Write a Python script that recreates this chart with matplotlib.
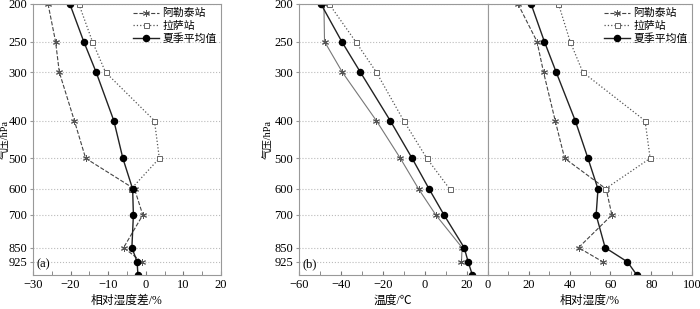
import numpy as np
import matplotlib.pyplot as plt
from matplotlib.ticker import FixedLocator, NullFormatter, MultipleLocator

plt.rcParams['font.family'] = ['Liberation Serif', 'Noto Sans CJK SC']
plt.rcParams['font.size'] = 9

# pressure levels (hPa)
p_all = [200, 250, 300, 400, 500, 600, 700, 850, 925, 1000]
p_alt = [200, 250, 300, 400, 500, 600, 700, 850, 925]
p_lhasa = [200, 250, 300, 400, 500, 600]
yticks = [200, 250, 300, 400, 500, 600, 700, 850, 925]

# (a) relative humidity difference (%)
rhd_alt = [-26, -24, -23, -19, -16, -3, -0.8, -5.9, -1]
rhd_lhasa = [-17.8, -14.2, -10.7, 2.3, 3.6, -3.9]
rhd_mean = [-20.2, -16.5, -13.2, -8.5, -6.1, -3.5, -3.3, -3.7, -2.3, -2.1]

# (b) temperature (degC)
t_alt = [-48, -47.7, -39.2, -23, -11.6, -2.9, 5.3, 17.8, 17.5]
t_lhasa = [-45.5, -32.9, -23, -10, 1, 11.9]
t_mean = [-49.4, -39.5, -30.6, -16.4, -6, 2.1, 9.2, 18.8, 20.7, 22.7]

# (b) relative humidity (%)
rh_alt = [14.8, 24.1, 27.3, 33, 37.6, 57.9, 60.7, 44.4, 56.3]
rh_lhasa = [34.6, 40.3, 46.5, 76.9, 79.4, 57.4]
rh_mean = [21.2, 27.7, 33.5, 42.8, 49, 53.9, 53, 57.4, 68.3, 72.9]

names = ['阿勒泰站', '拉萨站', '夏季平均值']
ast = (6, 2, 0)

fig = plt.figure(figsize=(7, 3.09), dpi=100)
H = 1 - 4 / 309 - 0.110
ax1 = fig.add_axes([33 / 700, 0.110, 188 / 700, H])
ax2 = fig.add_axes([298.7 / 700, 0.110, 189 / 700, H])
ax3 = fig.add_axes([487.7 / 700, 0.110, 204.6 / 700, H])


def style(ax, xlim, major, minor, ylab=None):
    ax.set_yscale('log')
    ax.set_ylim(1000, 200)
    ax.yaxis.set_major_locator(FixedLocator(yticks))
    ax.yaxis.set_minor_locator(FixedLocator([]))
    if ylab is not None:
        ax.set_yticklabels([str(v) for v in yticks])
        ax.set_ylabel('气压/hPa', fontsize=7.5)
        ax.yaxis.set_label_coords(ylab, 0.5)
        ax.tick_params(axis='y', length=2.5, pad=1.5, color='#999999')
    else:
        ax.yaxis.set_major_formatter(NullFormatter())
        ax.tick_params(axis='y', length=0)
    ax.set_xlim(*xlim)
    ax.xaxis.set_major_locator(MultipleLocator(major))
    ax.xaxis.set_minor_locator(MultipleLocator(minor))
    ax.tick_params(axis='x', which='both', direction='in', length=3, color='#777777', pad=3)
    ax.tick_params(labelsize=9)
    for s in ax.spines.values():
        s.set_color('#999999')
        s.set_linewidth(0.8)
    ax.grid(axis='y', which='major', color='#bbbbbb', linestyle=':', linewidth=0.8)
    ax.set_axisbelow(True)


def draw(ax, x1, x2, x3, alt_ls='--', alt_c='#444444'):
    ax.plot(x1, p_alt, linestyle=alt_ls, color=alt_c, lw=0.8, marker=ast,
            ms=5, mec='#555555', mew=0.7, label=names[0])
    ax.plot(x2, p_lhasa, linestyle=':', color='#555555', lw=0.9, marker='s',
            ms=3.6, mfc='white', mec='#666666', mew=0.7, label=names[1])
    ax.plot(x3, p_all, linestyle='-', color='#222222', lw=1.0, marker='o',
            ms=4.4, mfc='black', mec='black', label=names[2])


def legend(ax):
    ax.legend(loc='upper right', frameon=False, fontsize=7.8, handlelength=2.4,
              handletextpad=0.3, borderpad=0.1, labelspacing=0.2, borderaxespad=0.3)


draw(ax1, rhd_alt, rhd_lhasa, rhd_mean)
style(ax1, (-30, 20), 10, 5, ylab=-0.12)
ax1.set_xlabel('相对湿度差/%', labelpad=3, fontsize=8.5)
ax1.text(0.02, 0.03, '(a)', transform=ax1.transAxes, fontsize=9)
legend(ax1)

draw(ax2, t_alt, t_lhasa, t_mean, alt_ls='-', alt_c='#777777')
style(ax2, (-60, 30), 20, 10, ylab=-0.135)
ax2.set_xticks([-60, -40, -20, 0, 20])
ax2.set_xlabel('温度/℃', labelpad=3, fontsize=8.5)
ax2.text(0.02, 0.03, '(b)', transform=ax2.transAxes, fontsize=9)

draw(ax3, rh_alt, rh_lhasa, rh_mean)
style(ax3, (0, 100), 20, 10)
ax3.set_xlabel('相对湿度/%', labelpad=3, fontsize=8.5)
legend(ax3)

fig.savefig('out.png', dpi=100)
